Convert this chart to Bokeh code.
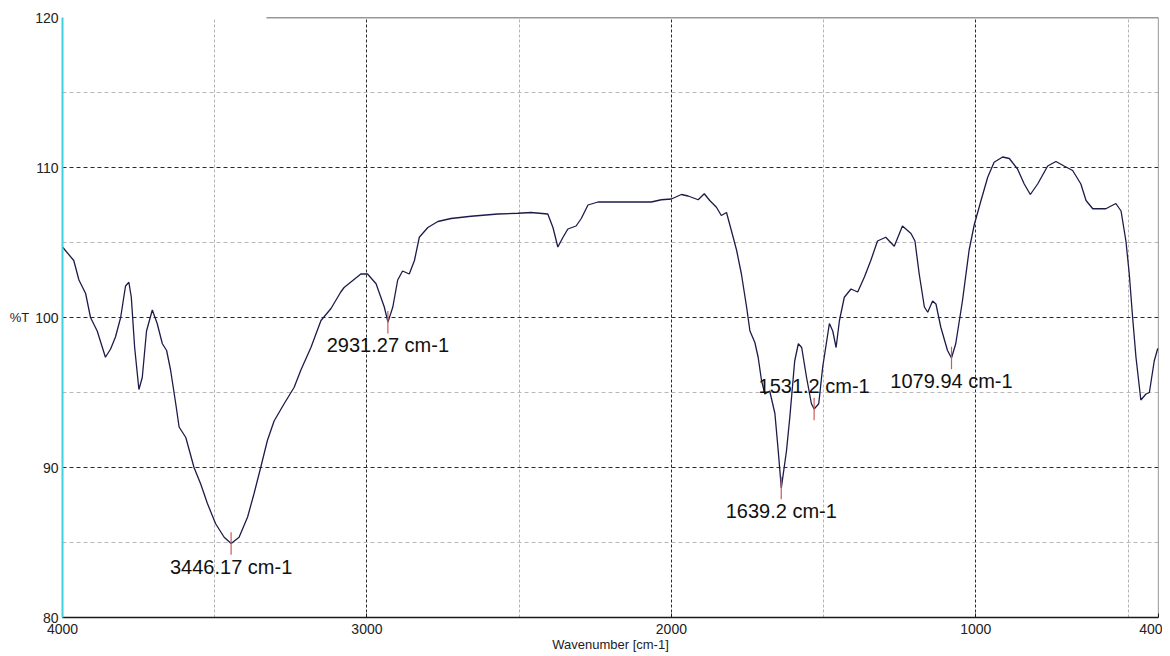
from bokeh.plotting import figure
from bokeh.models import Range1d, FixedTicker
from bokeh.embed import file_html
from bokeh.resources import INLINE
from bokeh.core.properties import value

# ---- data ----
wavenumber = [4000, 3963, 3946, 3924, 3908, 3886, 3869, 3859, 3842, 3826,
              3809, 3793, 3782, 3774, 3763, 3749, 3738, 3724, 3705, 3689,
              3672, 3658, 3645, 3628, 3617, 3595, 3568, 3546, 3524, 3497,
              3469, 3446, 3420, 3392, 3371, 3349, 3327, 3305, 3272, 3239,
              3217, 3184, 3151, 3118, 3086, 3075, 3020, 2998, 2970, 2943,
              2931, 2915, 2899, 2883, 2861, 2844, 2828, 2800, 2767, 2724,
              2658, 2570, 2504, 2461, 2406, 2389, 2373, 2356, 2340, 2313,
              2296, 2274, 2241, 2176, 2066, 2033, 2000, 1967, 1945, 1912,
              1892, 1874, 1852, 1836, 1819, 1803, 1786, 1770, 1753, 1742,
              1726, 1715, 1704, 1693, 1677, 1660, 1649, 1639, 1622, 1611,
              1595, 1583, 1572, 1556, 1540, 1531, 1516, 1503, 1481, 1470,
              1459, 1448, 1432, 1410, 1388, 1366, 1345, 1323, 1296, 1268,
              1241, 1213, 1200, 1186, 1169, 1158, 1142, 1131, 1115, 1093,
              1080, 1066, 1044, 1022, 1005, 983, 961, 940, 912, 890,
              863, 841, 821, 797, 764, 737, 710, 682, 655, 638,
              616, 573, 540, 523, 507, 496, 485, 474, 458, 441,
              430, 414, 403, 400]
transmittance = [104.7, 103.8, 102.5, 101.6, 100.0, 99.1, 98.0, 97.35, 97.9, 98.7,
                 100.0, 102.1, 102.35, 101.35, 98.0, 95.2, 96.0, 99.1, 100.5, 99.6,
                 98.25, 97.8, 96.5, 94.25, 92.7, 92.0, 90.0, 88.9, 87.6, 86.25,
                 85.35, 84.93, 85.35, 86.7, 88.25, 90.0, 91.8, 93.1, 94.25, 95.35,
                 96.5, 98.0, 99.8, 100.6, 101.7, 102.0, 102.9, 102.9, 102.25, 100.7,
                 99.69, 100.7, 102.5, 103.1, 102.9, 103.8, 105.35, 106.0, 106.4, 106.6,
                 106.75, 106.9, 106.95, 107.0, 106.9, 106.0, 104.7, 105.35, 105.9, 106.1,
                 106.6, 107.5, 107.7, 107.7, 107.7, 107.85, 107.9, 108.2, 108.1, 107.85,
                 108.25, 107.8, 107.35, 106.8, 107.0, 105.8, 104.5, 102.9, 100.7, 99.1,
                 98.35, 97.35, 95.8, 94.9, 95.1, 93.6, 91.1, 88.63, 91.1, 93.35,
                 97.1, 98.25, 98.0, 96.0, 94.25, 93.9, 94.25, 96.7, 99.6, 99.1,
                 98.0, 99.8, 101.35, 101.9, 101.7, 102.7, 103.8, 105.1, 105.35, 104.75,
                 106.1, 105.6, 105.1, 102.9, 100.7, 100.35, 101.1, 100.9, 99.35, 97.8,
                 97.3, 98.25, 101.1, 104.5, 106.2, 107.8, 109.35, 110.35, 110.7, 110.6,
                 109.9, 108.9, 108.2, 108.9, 110.1, 110.4, 110.1, 109.8, 108.9, 107.8,
                 107.25, 107.25, 107.6, 107.1, 105.1, 102.9, 100.0, 97.35, 94.5, 94.9,
                 95.0, 97.1, 97.9, 97.9]

peak_wn = [3446.17, 2931.27, 1639.2, 1531.2, 1079.94]
peak_t = [84.93, 99.69, 88.63, 93.9, 97.3]
label_above = [False, False, False, True, False]

x_ticks = [4000, 3000, 2000, 1000, 400]
y_ticks = [80, 90, 100, 110, 120]
x_major_grid = [3000, 2000, 1000]
x_minor_grid = [3500, 2500, 1500, 500]
y_major_grid = [90, 100, 110]
y_minor_grid = [85, 95, 105, 115]

FONT = "Liberation Sans"

p = figure(width=1162, height=654,
           x_range=Range1d(4000, 400), y_range=Range1d(80, 120),
           output_backend="svg", toolbar_location=None,
           min_border_left=62, min_border_right=4,
           min_border_top=17, min_border_bottom=37)
p.outline_line_color = None
p.background_fill_color = "white"
p.border_fill_color = "white"

# grids
p.xgrid.ticker = FixedTicker(ticks=x_major_grid, minor_ticks=x_minor_grid)
p.ygrid.ticker = FixedTicker(ticks=y_major_grid, minor_ticks=y_minor_grid)
p.xgrid.grid_line_color = "#2a2a2a"
p.xgrid.grid_line_dash = "3 2"
p.xgrid.minor_grid_line_color = "#b4b4b4"
p.xgrid.minor_grid_line_dash = "3 2"
p.ygrid.grid_line_color = "#2a2a2a"
p.ygrid.grid_line_dash = "4 3"
p.ygrid.minor_grid_line_color = "#b8b8b8"
p.ygrid.minor_grid_line_dash = "4 3"

# x axis
xa = p.xaxis[0]
xa.ticker = FixedTicker(ticks=x_ticks)
xa.axis_line_color = "#1a1a1a"
xa.axis_line_width = 1.6
xa.major_tick_in = 4
xa.major_tick_out = 0
xa.major_tick_line_color = "#1a1a1a"
xa.minor_tick_line_color = None
xa.major_label_text_font = FONT
xa.major_label_text_font_size = "14px"
xa.major_label_text_color = "#222222"
xa.major_label_standoff = 6
xa.axis_label = "Wavenumber [cm-1]"
xa.axis_label_text_font = FONT
xa.axis_label_text_font_size = "13px"
xa.axis_label_text_font_style = "normal"
xa.axis_label_text_color = "#222222"
xa.axis_label_standoff = 0

# y axis
ya = p.yaxis[0]
ya.ticker = FixedTicker(ticks=y_ticks)
ya.axis_line_color = "#40d0e0"
ya.axis_line_width = 2
ya.major_tick_in = 0
ya.major_tick_out = 0
ya.minor_tick_line_color = None
ya.major_label_text_font = FONT
ya.major_label_text_font_size = "14px"
ya.major_label_text_color = "#222222"
ya.major_label_standoff = 4
ya.axis_label = "%T"
ya.axis_label_orientation = "horizontal"
ya.axis_label_text_font = FONT
ya.axis_label_text_font_size = "13px"
ya.axis_label_text_font_style = "normal"
ya.axis_label_text_color = "#222222"
ya.axis_label_standoff = 3

# partial top border and right border of the frame
top_border_start = 3330
xr, yr = p.x_range, p.y_range
p.segment(x0=[top_border_start], y0=[yr.end], x1=[xr.end], y1=[yr.end],
          line_color="#333333", line_width=1.5)
p.segment(x0=[xr.end], y0=[yr.start], x1=[xr.end], y1=[yr.end],
          line_color="#555555", line_width=1.2)

# spectrum
p.line(wavenumber, transmittance, line_color="#1c1c4a", line_width=1.3)

# peak markers
half = 0.75
p.segment(x0=peak_wn, y0=[t - half for t in peak_t],
          x1=peak_wn, y1=[t + half for t in peak_t],
          line_color="#cc5a5a", line_width=1.2)

labels = [f"{w:g} cm-1" for w in peak_wn]
below = [i for i, a in enumerate(label_above) if not a]
above = [i for i, a in enumerate(label_above) if a]
for idx, off in ((below, 23), (above, -23)):
    p.text(x=[peak_wn[i] for i in idx], y=[peak_t[i] for i in idx],
           text=[labels[i] for i in idx],
           text_font=value(FONT), text_font_size="20px",
           text_color="#111111", text_align="center", text_baseline="middle",
           y_offset=off)

open("out.html", "w").write(file_html(p, INLINE))
